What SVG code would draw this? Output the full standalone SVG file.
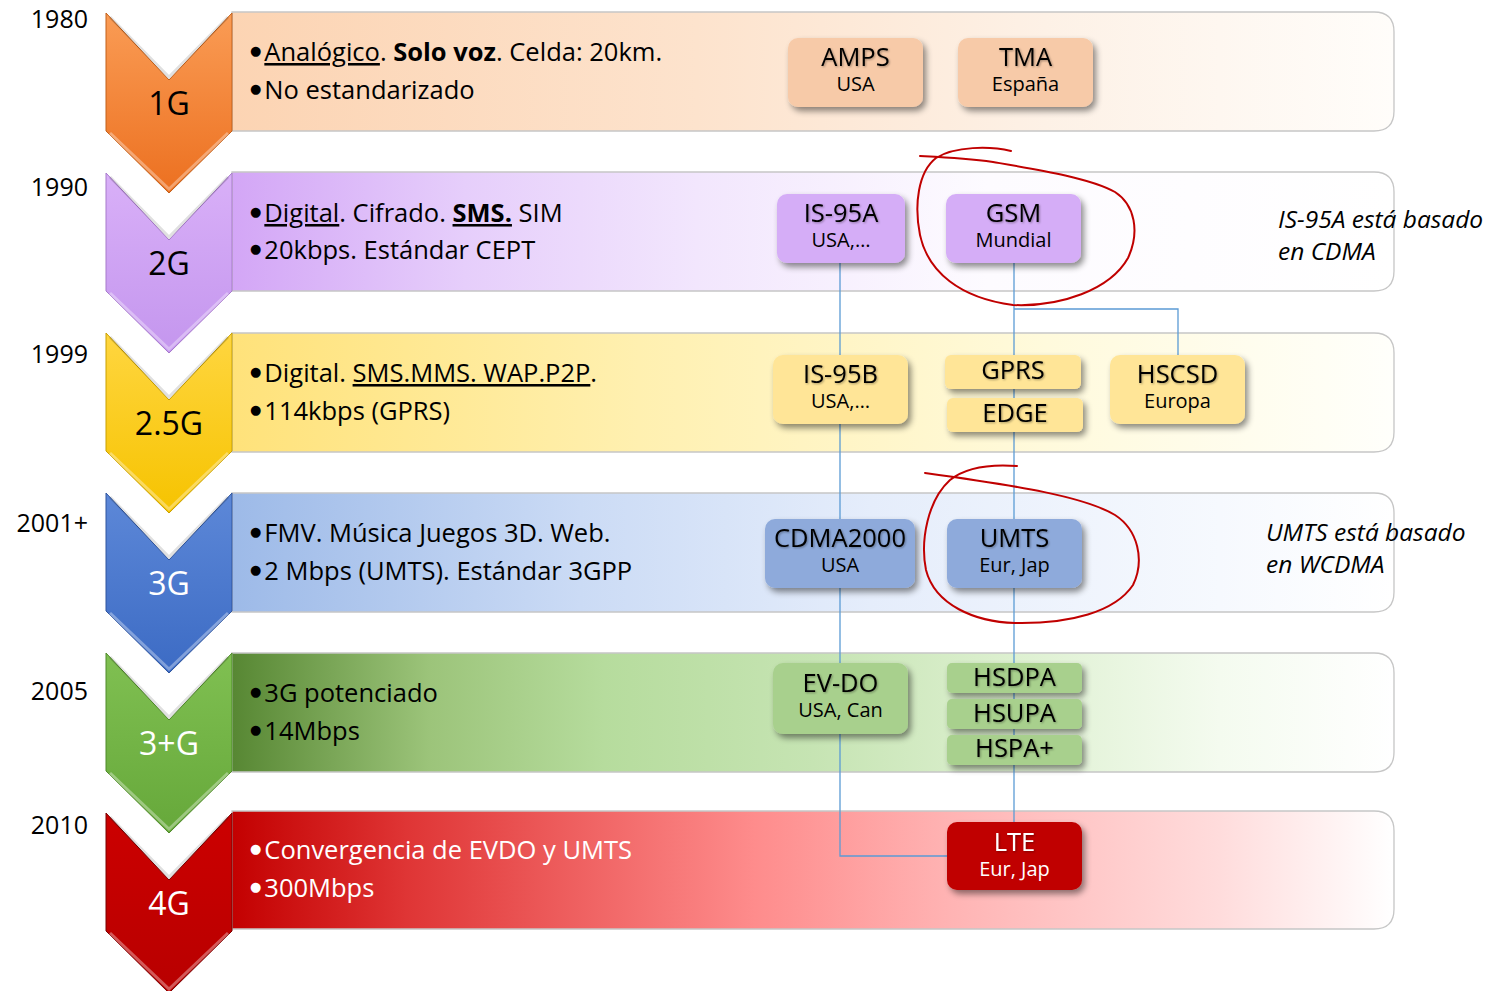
<svg xmlns="http://www.w3.org/2000/svg" width="1503" height="991" viewBox="0 0 1503 991">
<style>
text{font-family:"Open Sans","Noto Sans","DejaVu Sans",sans-serif;fill:#000}
.yr{font-size:25px;text-anchor:end}
.body{font-size:25.5px}
.bul{font-family:"DejaVu Sans",sans-serif;font-size:13px}
.w{fill:#fff}
.gl{font-size:32px;text-anchor:middle}
.nt{font-size:25.5px;text-anchor:middle;filter:url(#ts)}
.ns{font-size:20px;text-anchor:middle}
.note{font-size:24.5px;font-style:italic}
.band{stroke:#c6c6c6;stroke-width:1.3}
.chev{stroke-width:1}
.bev{fill:none;stroke:#fff;stroke-opacity:.35;stroke-width:3}
.bevd{fill:none;stroke:#000;stroke-opacity:.12;stroke-width:3}
.node{filter:url(#sh)}
.conn{fill:none;stroke:#5b9bd5;stroke-width:1.3}
.ring{fill:none;stroke:#c00000;stroke-width:2;stroke-linecap:round}
</style>
<defs>
<filter id="sh" x="-20%" y="-20%" width="150%" height="160%"><feDropShadow dx="3" dy="4" stdDeviation="3" flood-color="#000" flood-opacity="0.45"/></filter>
<filter id="ts" x="-10%" y="-20%" width="130%" height="150%"><feDropShadow dx="1" dy="1" stdDeviation="0.8" flood-color="#000" flood-opacity="0.35"/></filter>
<linearGradient id="b1" x1="0" x2="1" y1="0" y2="0"><stop offset="0" stop-color="#fcd4b3"/><stop offset="0.4" stop-color="#fde3cd"/><stop offset="0.7" stop-color="#fdf1e6"/><stop offset="1" stop-color="#fffdfa"/></linearGradient>
<linearGradient id="b2" x1="0" x2="1" y1="0" y2="0"><stop offset="0" stop-color="#d3a6f6"/><stop offset="0.2" stop-color="#e6cefb"/><stop offset="0.4" stop-color="#f2e6fd"/><stop offset="0.65" stop-color="#fdfbff"/><stop offset="1" stop-color="#ffffff"/></linearGradient>
<linearGradient id="b3" x1="0" x2="1" y1="0" y2="0"><stop offset="0" stop-color="#ffe27a"/><stop offset="0.35" stop-color="#fff0b0"/><stop offset="0.7" stop-color="#fffadc"/><stop offset="1" stop-color="#fffffb"/></linearGradient>
<linearGradient id="b4" x1="0" x2="1" y1="0" y2="0"><stop offset="0" stop-color="#9dbae8"/><stop offset="0.3" stop-color="#cbdbf5"/><stop offset="0.55" stop-color="#e5edfb"/><stop offset="0.85" stop-color="#f6f9fe"/><stop offset="1" stop-color="#ffffff"/></linearGradient>
<linearGradient id="b5" x1="0" x2="1" y1="0" y2="0"><stop offset="0" stop-color="#578733"/><stop offset="0.17" stop-color="#9cc47a"/><stop offset="0.32" stop-color="#b6dc9d"/><stop offset="0.5" stop-color="#c6e4b3"/><stop offset="0.67" stop-color="#ddf0d0"/><stop offset="0.85" stop-color="#f4fbef"/><stop offset="1" stop-color="#ffffff"/></linearGradient>
<linearGradient id="b6" x1="0" x2="1" y1="0" y2="0"><stop offset="0" stop-color="#c30000"/><stop offset="0.15" stop-color="#df3535"/><stop offset="0.33" stop-color="#f26a6a"/><stop offset="0.45" stop-color="#fe8c8c"/><stop offset="0.62" stop-color="#ffb4b4"/><stop offset="0.85" stop-color="#ffdcdc"/><stop offset="1" stop-color="#ffffff"/></linearGradient>
<linearGradient id="c1" x1="0" x2="0" y1="0" y2="1"><stop offset="0" stop-color="#fa9c55"/><stop offset="1" stop-color="#ec7020"/></linearGradient>
<linearGradient id="c2" x1="0" x2="0" y1="0" y2="1"><stop offset="0" stop-color="#d9b0f8"/><stop offset="1" stop-color="#c496ee"/></linearGradient>
<linearGradient id="c3" x1="0" x2="0" y1="0" y2="1"><stop offset="0" stop-color="#ffd640"/><stop offset="1" stop-color="#f6c300"/></linearGradient>
<linearGradient id="c4" x1="0" x2="0" y1="0" y2="1"><stop offset="0" stop-color="#5d88d8"/><stop offset="1" stop-color="#3c6bc4"/></linearGradient>
<linearGradient id="c5" x1="0" x2="0" y1="0" y2="1"><stop offset="0" stop-color="#80c052"/><stop offset="1" stop-color="#66a83a"/></linearGradient>
<linearGradient id="c6" x1="0" x2="0" y1="0" y2="1"><stop offset="0" stop-color="#cc0000"/><stop offset="1" stop-color="#b80000"/></linearGradient>
<path id="chevShape" d="M0,0 L63,67 L126,0 L126,118 L63,180 L0,118 Z"/>
</defs>

<rect width="1503" height="991" fill="#fff"/>

<!-- Rows: band + chevron + year + text -->
<g id="row-1G">
<path class="band" fill="url(#b1)" d="M232,12 H1374 Q1394,12 1394,32 V111 Q1394,131 1374,131 H232 Z"/>
<g transform="translate(106,13)"><use href="#chevShape" class="chev" fill="url(#c1)" stroke="#c2601a"/><path class="bev" d="M4,120 L63,176 L122,120"/><path class="bevd" d="M4,4 L63,64 L122,4"/></g>
<text class="yr" x="88" y="28">1980</text>
<text class="gl" x="169" y="115">1G</text>
<text class="body" x="250" y="61"><tspan class="bul" dy="-6">●</tspan><tspan dx="3" dy="6"><tspan text-decoration="underline">Analógico</tspan>. <tspan font-weight="bold">Solo voz</tspan>. Celda: 20km.</tspan></text>
<text class="body" x="250" y="99"><tspan class="bul" dy="-6">●</tspan><tspan dx="3" dy="6">No estandarizado</tspan></text>
</g>

<g id="row-2G">
<path class="band" fill="url(#b2)" d="M232,172 H1374 Q1394,172 1394,192 V271 Q1394,291 1374,291 H232 Z"/>
<g transform="translate(106,173)"><use href="#chevShape" class="chev" fill="url(#c2)" stroke="#a77acb"/><path class="bev" d="M4,120 L63,176 L122,120"/><path class="bevd" d="M4,4 L63,64 L122,4"/></g>
<text class="yr" x="88" y="196">1990</text>
<text class="gl" x="169" y="275">2G</text>
<text class="body" x="250" y="222"><tspan class="bul" dy="-6">●</tspan><tspan dx="3" dy="6"><tspan text-decoration="underline">Digital</tspan>. Cifrado. <tspan font-weight="bold" text-decoration="underline">SMS.</tspan> SIM</tspan></text>
<text class="body" x="250" y="259"><tspan class="bul" dy="-6">●</tspan><tspan dx="3" dy="6">20kbps. Estándar CEPT</tspan></text>
<text class="note" x="1278" y="228">IS-95A está basado</text>
<text class="note" x="1278" y="260">en CDMA</text>
</g>

<g id="row-2.5G">
<path class="band" fill="url(#b3)" d="M232,333 H1374 Q1394,333 1394,353 V432 Q1394,452 1374,452 H232 Z"/>
<g transform="translate(106,333)"><use href="#chevShape" class="chev" fill="url(#c3)" stroke="#c9a000"/><path class="bev" d="M4,120 L63,176 L122,120"/><path class="bevd" d="M4,4 L63,64 L122,4"/></g>
<text class="yr" x="88" y="363">1999</text>
<text class="gl" x="169" y="435">2.5G</text>
<text class="body" x="250" y="382"><tspan class="bul" dy="-6">●</tspan><tspan dx="3" dy="6">Digital. <tspan text-decoration="underline">SMS.MMS. WAP.P2P</tspan>.</tspan></text>
<text class="body" x="250" y="420"><tspan class="bul" dy="-6">●</tspan><tspan dx="3" dy="6">114kbps (GPRS)</tspan></text>
</g>

<g id="row-3G">
<path class="band" fill="url(#b4)" d="M232,493 H1374 Q1394,493 1394,513 V592 Q1394,612 1374,612 H232 Z"/>
<g transform="translate(106,493)"><use href="#chevShape" class="chev" fill="url(#c4)" stroke="#2f559e"/><path class="bev" d="M4,120 L63,176 L122,120"/><path class="bevd" d="M4,4 L63,64 L122,4"/></g>
<text class="yr" x="88" y="532">2001+</text>
<text class="gl w" x="169" y="595">3G</text>
<text class="body" x="250" y="542"><tspan class="bul" dy="-6">●</tspan><tspan dx="3" dy="6">FMV. Música Juegos 3D. Web.</tspan></text>
<text class="body" x="250" y="580"><tspan class="bul" dy="-6">●</tspan><tspan dx="3" dy="6">2 Mbps (UMTS). Estándar 3GPP</tspan></text>
<text class="note" x="1266" y="541">UMTS está basado</text>
<text class="note" x="1266" y="573">en WCDMA</text>
</g>

<g id="row-3plusG">
<path class="band" fill="url(#b5)" d="M232,653 H1374 Q1394,653 1394,673 V752 Q1394,772 1374,772 H232 Z"/>
<g transform="translate(106,653)"><use href="#chevShape" class="chev" fill="url(#c5)" stroke="#4f8a2a"/><path class="bev" d="M4,120 L63,176 L122,120"/><path class="bevd" d="M4,4 L63,64 L122,4"/></g>
<text class="yr" x="88" y="700">2005</text>
<text class="gl w" x="169" y="755">3+G</text>
<text class="body" x="250" y="702"><tspan class="bul" dy="-6">●</tspan><tspan dx="3" dy="6">3G potenciado</tspan></text>
<text class="body" x="250" y="740"><tspan class="bul" dy="-6">●</tspan><tspan dx="3" dy="6">14Mbps</tspan></text>
</g>

<g id="row-4G">
<path class="band" fill="url(#b6)" d="M232,811 H1374 Q1394,811 1394,831 V909 Q1394,929 1374,929 H232 Z"/>
<g transform="translate(106,813)"><use href="#chevShape" class="chev" fill="url(#c6)" stroke="#7a0000"/><path class="bev" d="M4,120 L63,176 L122,120"/><path class="bevd" d="M4,4 L63,64 L122,4"/></g>
<text class="yr" x="88" y="834">2010</text>
<text class="gl w" x="169" y="915">4G</text>
<text class="body w" x="250" y="859"><tspan class="bul" dy="-6">●</tspan><tspan dx="3" dy="6">Convergencia de EVDO y UMTS</tspan></text>
<text class="body w" x="250" y="897"><tspan class="bul" dy="-6">●</tspan><tspan dx="3" dy="6">300Mbps</tspan></text>
</g>

<!-- Connectors -->
<g id="connectors">
<path class="conn" d="M840,263 V856 H947"/>
<path class="conn" d="M1014,263 V822"/>
<path class="conn" d="M1014,309 H1178 V355"/>
</g>

<!-- Nodes -->
<g id="node-AMPS"><rect class="node" x="788" y="38" width="135" height="69" rx="10" fill="#f7caa8"/><text class="nt" x="855.5" y="66">AMPS</text><text class="ns" x="855.5" y="91">USA</text></g>
<g id="node-TMA"><rect class="node" x="958" y="38" width="135" height="69" rx="10" fill="#f7caa8"/><text class="nt" x="1025.5" y="66">TMA</text><text class="ns" x="1025.5" y="91">España</text></g>
<g id="node-IS95A"><rect class="node" x="777" y="194" width="128" height="69" rx="10" fill="#d5adf7"/><text class="nt" x="841" y="222">IS-95A</text><text class="ns" x="841" y="247">USA,…</text></g>
<g id="node-GSM"><rect class="node" x="946" y="194" width="135" height="69" rx="10" fill="#d5adf7"/><text class="nt" x="1013.5" y="222">GSM</text><text class="ns" x="1013.5" y="247">Mundial</text></g>
<g id="node-IS95B"><rect class="node" x="773" y="355" width="135" height="69" rx="10" fill="#ffe597"/><text class="nt" x="840.5" y="383">IS-95B</text><text class="ns" x="840.5" y="408">USA,…</text></g>
<g id="node-GPRS"><rect class="node" x="945" y="355" width="136" height="34" rx="6" fill="#ffe597"/><text class="nt" x="1013" y="379">GPRS</text></g>
<g id="node-EDGE"><rect class="node" x="947" y="398" width="136" height="34" rx="6" fill="#ffe597"/><text class="nt" x="1015" y="422">EDGE</text></g>
<g id="node-HSCSD"><rect class="node" x="1110" y="355" width="135" height="69" rx="10" fill="#ffe597"/><text class="nt" x="1177.5" y="383">HSCSD</text><text class="ns" x="1177.5" y="408">Europa</text></g>
<g id="node-CDMA2000"><rect class="node" x="765" y="519" width="150" height="69" rx="10" fill="#8eaadb"/><text class="nt" x="840" y="547">CDMA2000</text><text class="ns" x="840" y="572">USA</text></g>
<g id="node-UMTS"><rect class="node" x="947" y="519" width="135" height="69" rx="10" fill="#8eaadb"/><text class="nt" x="1014.5" y="547">UMTS</text><text class="ns" x="1014.5" y="572">Eur, Jap</text></g>
<g id="node-EVDO"><rect class="node" x="773" y="663" width="135" height="71" rx="10" fill="#a8d08d"/><text class="nt" x="840.5" y="692">EV-DO</text><text class="ns" x="840.5" y="717">USA, Can</text></g>
<g id="node-HSDPA"><rect class="node" x="947" y="663" width="135" height="30" rx="5" fill="#a8d08d"/><text class="nt" x="1014.5" y="686">HSDPA</text></g>
<g id="node-HSUPA"><rect class="node" x="947" y="699" width="135" height="30" rx="5" fill="#a8d08d"/><text class="nt" x="1014.5" y="722">HSUPA</text></g>
<g id="node-HSPAplus"><rect class="node" x="947" y="735" width="135" height="30" rx="5" fill="#a8d08d"/><text class="nt" x="1014.5" y="757">HSPA+</text></g>
<g id="node-LTE"><rect class="node" x="947" y="822" width="135" height="68" rx="10" fill="#c00000"/><text class="nt w" x="1014.5" y="851">LTE</text><text class="ns w" x="1014.5" y="876">Eur, Jap</text></g>

<!-- Hand-drawn red rings -->
<g id="ring-GSM"><path class="ring" d="M1011,151 C990,146 955,146 936,158 C918,172 914,205 920,235 C928,272 960,298 1013,305 C1060,307 1110,290 1128,258 C1140,232 1135,205 1115,192 C1090,178 1040,170 993,162 C965,158 940,157 920,156"/></g>
<g id="ring-UMTS"><path class="ring" d="M1017,466 C990,464 965,468 950,480 C928,500 920,540 926,570 C935,605 975,622 1015,623 C1070,624 1115,612 1133,585 C1145,560 1138,530 1115,515 C1085,497 1020,486 925,473"/></g>
</svg>
